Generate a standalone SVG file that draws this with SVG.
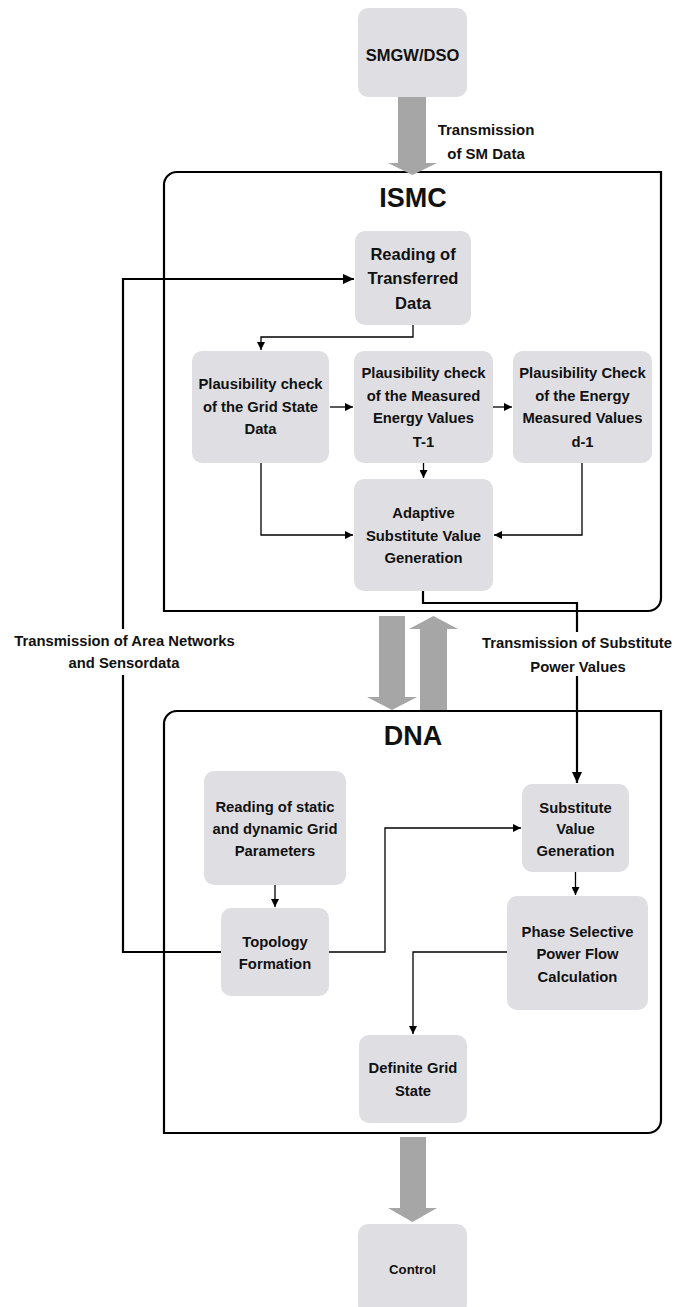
<svg xmlns="http://www.w3.org/2000/svg" width="676" height="1307" viewBox="0 0 676 1307">
<style>
.box{fill:#dfdfe3;}
.cont{fill:none;stroke:#000;stroke-width:2.2;}
.big{fill:#a6a6a6;}
.t{font-family:"Liberation Sans",Arial,sans-serif;font-weight:bold;font-size:14.8px;fill:#111;text-anchor:middle;}
.t16{font-size:16.5px;}
.t13{font-size:13.2px;}
.title{font-size:27px;}
.thin{fill:none;stroke:#000;stroke-width:1.3;}
.thick{fill:none;stroke:#000;stroke-width:2.2;}
.bg{fill:#fff;}
</style>
<defs>
<marker id="ah" markerUnits="userSpaceOnUse" markerWidth="9" markerHeight="8" refX="8" refY="4" orient="auto"><path d="M0,0 L8,4 L0,8 Z" fill="#000"/></marker>
<marker id="ahb" markerUnits="userSpaceOnUse" markerWidth="12" markerHeight="10" refX="11" refY="5" orient="auto"><path d="M0,0 L11,5 L0,10 Z" fill="#000"/></marker>
</defs>

<!-- containers -->
<g id="ISMC">
<path class="cont" d="M177,172 H661 V598 A13,13 0 0 1 648,611 H164 V185 A13,13 0 0 1 177,172 Z"/>
<text class="t title" x="413" y="207">ISMC</text>
</g>
<g id="DNA">
<path class="cont" d="M177,711 H661 V1120 A13,13 0 0 1 648,1133 H164 V724 A13,13 0 0 1 177,711 Z"/>
<text class="t title" x="413" y="745">DNA</text>
</g>

<!-- big gray arrows -->
<g id="big-arrows">
<polygon class="big" points="398,97 426,97 426,163 437,163 412.5,175 388,163 398,163"/>
<polygon class="big" points="379,616 405,616 405,697 417,697 392,710 367,697 379,697"/>
<polygon class="big" points="420,710 447,710 447,629 458,629 433.5,616 409,629 420,629"/>
<polygon class="big" points="400,1137 426,1137 426,1208 437,1208 412.5,1222 388,1208 400,1208"/>
</g>

<!-- nodes -->
<g id="smgw"><rect class="box" x="358" y="8" width="109" height="89" rx="10"/><text class="t t16" x="412.5" y="61">SMGW/DSO</text></g>
<g id="reading-transferred"><rect class="box" x="355" y="231" width="116" height="94" rx="10"/>
<text class="t t16" x="413" y="260">Reading of</text><text class="t t16" x="413" y="284">Transferred</text><text class="t t16" x="413" y="309">Data</text></g>
<g id="plaus-grid"><rect class="box" x="192" y="351" width="137" height="112" rx="10"/>
<text class="t" x="260.5" y="389">Plausibility check</text><text class="t" x="260.5" y="412">of the Grid State</text><text class="t" x="260.5" y="434">Data</text></g>
<g id="plaus-measured"><rect class="box" x="354" y="351" width="139" height="112" rx="10"/>
<text class="t" x="423.5" y="378">Plausibility check</text><text class="t" x="423.5" y="401">of the Measured</text><text class="t" x="423.5" y="423">Energy Values</text><text class="t" x="423.5" y="447">T-1</text></g>
<g id="plaus-energy"><rect class="box" x="513" y="351" width="139" height="112" rx="10"/>
<text class="t" x="582.5" y="378">Plausibility Check</text><text class="t" x="582.5" y="401">of the Energy</text><text class="t" x="582.5" y="423">Measured Values</text><text class="t" x="582.5" y="447">d-1</text></g>
<g id="adaptive"><rect class="box" x="354" y="479" width="139" height="112" rx="10"/>
<text class="t" x="423.5" y="518">Adaptive</text><text class="t" x="423.5" y="541">Substitute Value</text><text class="t" x="423.5" y="563">Generation</text></g>
<g id="reading-static"><rect class="box" x="204" y="771" width="142" height="114" rx="10"/>
<text class="t" x="275" y="812">Reading of static</text><text class="t" x="275" y="834">and dynamic Grid</text><text class="t" x="275" y="856">Parameters</text></g>
<g id="topology"><rect class="box" x="221" y="908" width="108" height="88" rx="10"/>
<text class="t" x="275" y="947">Topology</text><text class="t" x="275" y="969">Formation</text></g>
<g id="substitute"><rect class="box" x="522" y="784" width="107" height="88" rx="10"/>
<text class="t" x="575.5" y="813">Substitute</text><text class="t" x="575.5" y="834">Value</text><text class="t" x="575.5" y="856">Generation</text></g>
<g id="phase"><rect class="box" x="507" y="896" width="141" height="114" rx="10"/>
<text class="t" x="577.5" y="937">Phase Selective</text><text class="t" x="577.5" y="959">Power Flow</text><text class="t" x="577.5" y="982">Calculation</text></g>
<g id="definite"><rect class="box" x="359" y="1035" width="108" height="88" rx="10"/>
<text class="t" x="413" y="1073">Definite Grid</text><text class="t" x="413" y="1096">State</text></g>
<g id="control"><rect class="box" x="358" y="1224" width="109" height="90" rx="10"/>
<text class="t t13" x="412.5" y="1274">Control</text></g>

<!-- connectors -->
<g id="connectors">
<path class="thin" d="M413,325 V337 H261 V350" marker-end="url(#ah)"/>
<path class="thin" d="M330,407 H353" marker-end="url(#ah)"/>
<path class="thin" d="M493,407 H512" marker-end="url(#ah)"/>
<path class="thin" d="M423.5,463 V478" marker-end="url(#ah)"/>
<path class="thin" d="M261,463 V535 H353" marker-end="url(#ah)"/>
<path class="thin" d="M582,463 V535 H494" marker-end="url(#ah)"/>
<path class="thick" d="M423,591 V603 H577 V783" marker-end="url(#ahb)"/>
<path class="thick" d="M221,952 H123 V279 H354" marker-end="url(#ahb)"/>
<path class="thin" d="M275,885 V907" marker-end="url(#ah)"/>
<path class="thin" d="M329,952 H385 V828 H521" marker-end="url(#ah)"/>
<path class="thin" d="M575.5,872 V895" marker-end="url(#ah)"/>
<path class="thin" d="M507,952 H413 V1034" marker-end="url(#ah)"/>
</g>

<!-- connector labels -->
<g id="labels">
<text class="t" style="font-size:15px" x="486" y="135">Transmission</text>
<text class="t" style="font-size:15px" x="486" y="159">of SM Data</text>
<rect class="bg" x="8" y="629" width="234" height="46"/>
<text class="t" x="124.5" y="646">Transmission of Area Networks</text>
<text class="t" x="124" y="668">and Sensordata</text>
<rect class="bg" x="480" y="632" width="194" height="44"/>
<text class="t" x="577" y="648">Transmission of Substitute</text>
<text class="t" x="578" y="672">Power Values</text>
</g>
</svg>
